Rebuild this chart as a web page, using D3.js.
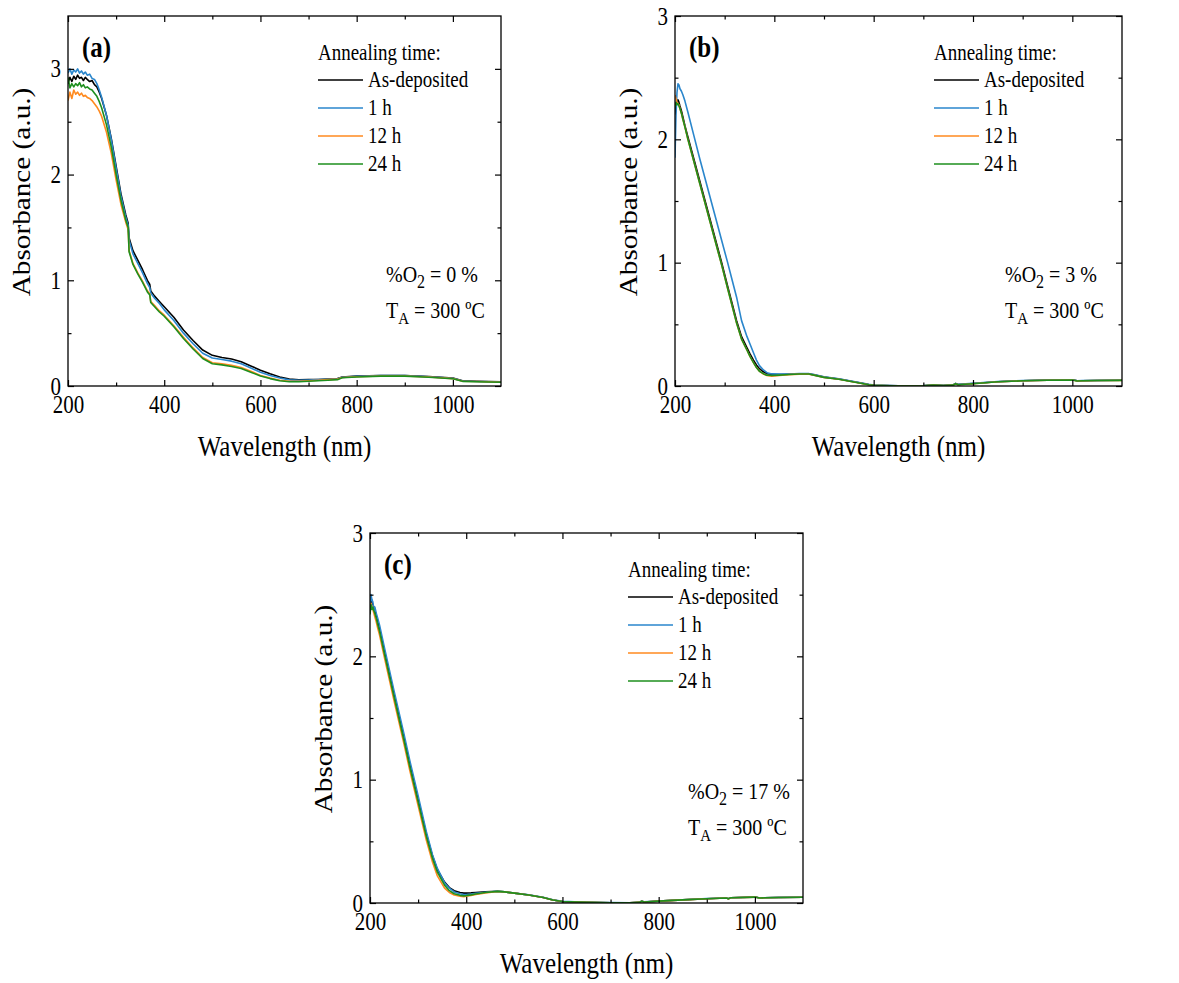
<!DOCTYPE html>
<html><head><meta charset="utf-8">
<script src="https://cdn.jsdelivr.net/npm/d3@7"></script>
<style>
body{margin:0;background:#fff}
svg{display:block}
text{font-family:"Liberation Serif","Times New Roman",serif;fill:#000}
</style>
</head><body>
<svg id="chart" width="1179" height="983"></svg>
<script>
// ---------------- DATA ----------------
const seriesNames = ["As-deposited", "1 h", "12 h", "24 h"];
const seriesColors = ["#000000", "#2a86cc", "#ff8a1f", "#1e8f1e"];
const xTickValues = [200, 400, 600, 800, 1000];
const xMinorTickValues = [300, 500, 700, 900];
const panelLabels = ["(a)", "(b)", "(c)"];
const oxygenLabels = ["0", "3", "17"];
const annealTempLabel = "300 ºC";

// Panel (a) : %O2 = 0 %
const waveA = [200,204,208,212,216,220,224,228,232,236,240,245,250,255,260,265,270,280,290,300,
  310,320,325,327,335,345,355,365,370,372,380,390,400,420,440,460,480,500,520,540,
  560,580,600,620,640,660,680,700,720,740,760,770,800,850,900,950,1000,1020,1050,1100];
const asDepA = [2.86,2.92,2.88,2.93,2.90,2.94,2.91,2.92,2.89,2.92,2.90,2.88,2.89,2.85,2.83,2.78,2.72,2.56,2.34,2.08,
  1.82,1.62,1.54,1.40,1.28,1.19,1.10,1.00,0.96,0.90,0.85,0.80,0.75,0.65,0.53,0.43,0.34,0.29,0.27,0.255,
  0.23,0.19,0.15,0.115,0.085,0.065,0.058,0.06,0.062,0.065,0.07,0.085,0.095,0.10,0.10,0.09,0.075,0.05,0.045,0.04];
const h1A = [2.96,3.00,2.95,2.99,2.97,3.00,2.96,2.98,2.95,2.97,2.94,2.95,2.91,2.90,2.86,2.80,2.73,2.56,2.33,2.06,
  1.80,1.60,1.52,1.38,1.25,1.16,1.07,0.97,0.93,0.88,0.83,0.78,0.72,0.62,0.50,0.40,0.31,0.265,0.25,0.235,
  0.21,0.17,0.13,0.10,0.075,0.058,0.053,0.056,0.06,0.063,0.068,0.082,0.092,0.098,0.098,0.088,0.072,0.048,0.043,0.038];
const h12A = [2.70,2.78,2.72,2.80,2.76,2.78,2.75,2.77,2.74,2.75,2.73,2.72,2.70,2.67,2.64,2.60,2.55,2.40,2.20,1.95,
  1.72,1.55,1.48,1.28,1.16,1.07,0.99,0.90,0.87,0.80,0.76,0.71,0.67,0.57,0.46,0.36,0.27,0.22,0.21,0.195,
  0.175,0.14,0.10,0.075,0.055,0.045,0.045,0.05,0.055,0.06,0.065,0.08,0.088,0.095,0.095,0.085,0.07,0.045,0.042,0.036];
const h24A = [2.92,2.82,2.86,2.83,2.86,2.84,2.87,2.83,2.85,2.82,2.83,2.81,2.80,2.77,2.74,2.69,2.63,2.47,2.26,2.00,
  1.76,1.57,1.50,1.27,1.15,1.06,0.98,0.89,0.86,0.79,0.75,0.70,0.66,0.56,0.45,0.35,0.26,0.21,0.20,0.185,
  0.165,0.13,0.095,0.07,0.05,0.04,0.04,0.045,0.05,0.055,0.06,0.078,0.085,0.093,0.093,0.083,0.068,0.044,0.04,0.035];

// Panel (b) : %O2 = 3 %
const waveB = [200,202,204,206,208,210,213,216,220,226,238,250,260,270,280,294,306,315,324,334,
  345,351,358,364,370,378,385,395,410,430,450,470,480,500,530,560,590,600,650,700,
  720,740,760,765,770,800,850,900,950,1000,1010,1020,1050,1100];
const asDepB = [2.20,2.28,2.31,2.32,2.30,2.27,2.23,2.18,2.11,2.02,1.84,1.66,1.51,1.36,1.21,1.00,0.81,0.67,0.53,0.40,
  0.31,0.26,0.21,0.17,0.14,0.115,0.10,0.095,0.093,0.095,0.098,0.098,0.09,0.072,0.057,0.035,0.012,0.006,0.001,0.002,
  0.008,0.004,0.008,0.02,0.012,0.02,0.035,0.043,0.048,0.05,0.042,0.043,0.045,0.047];
const h1B = [1.85,2.20,2.38,2.45,2.44,2.41,2.39,2.36,2.31,2.22,2.03,1.84,1.69,1.54,1.39,1.18,1.00,0.86,0.72,0.53,
  0.40,0.34,0.27,0.21,0.165,0.13,0.108,0.098,0.096,0.097,0.10,0.10,0.092,0.074,0.058,0.036,0.013,0.007,0.002,0.003,
  0.009,0.005,0.009,0.021,0.013,0.021,0.036,0.044,0.049,0.051,0.043,0.044,0.046,0.048];
const h12B = [2.36,2.33,2.30,2.29,2.28,2.25,2.21,2.16,2.10,2.00,1.82,1.64,1.49,1.34,1.19,0.98,0.79,0.65,0.51,0.38,
  0.29,0.24,0.19,0.15,0.12,0.097,0.085,0.08,0.085,0.092,0.096,0.096,0.088,0.07,0.055,0.033,0.01,0.005,0.0,0.001,
  0.007,0.003,0.007,0.018,0.01,0.018,0.034,0.042,0.047,0.049,0.041,0.042,0.044,0.046];
const h24B = [2.26,2.30,2.28,2.29,2.27,2.25,2.21,2.16,2.10,2.00,1.82,1.64,1.49,1.34,1.19,0.98,0.79,0.65,0.51,0.38,
  0.29,0.24,0.19,0.15,0.12,0.10,0.088,0.085,0.088,0.093,0.097,0.097,0.088,0.07,0.055,0.033,0.01,0.005,0.0,0.001,
  0.007,0.003,0.007,0.018,0.01,0.018,0.034,0.042,0.047,0.049,0.041,0.042,0.044,0.046];

// Panel (c) : %O2 = 17 %
const waveC = [200,202,204,206,208,210,213,216,220,230,250,270,283,300,317,330,340,355,365,375,
  387,395,400,410,420,440,465,480,500,530,560,580,600,650,700,740,760,765,770,800,
  850,900,940,945,950,1000,1010,1020,1050,1100];
const asDepC = [2.40,2.46,2.44,2.42,2.40,2.37,2.33,2.28,2.22,2.04,1.69,1.35,1.12,0.84,0.56,0.38,0.27,0.17,0.125,0.10,
  0.085,0.08,0.08,0.082,0.085,0.09,0.095,0.09,0.08,0.065,0.045,0.025,0.012,0.005,0.002,0.001,0.005,0.015,0.008,0.015,
  0.025,0.035,0.04,0.035,0.042,0.048,0.04,0.042,0.045,0.047];
const h1C = [2.35,2.50,2.46,2.44,2.36,2.40,2.35,2.31,2.25,2.07,1.72,1.38,1.15,0.87,0.58,0.39,0.28,0.165,0.12,0.09,
  0.075,0.068,0.068,0.072,0.078,0.087,0.095,0.09,0.08,0.066,0.046,0.026,0.013,0.006,0.003,0.002,0.006,0.016,0.009,0.016,
  0.026,0.036,0.041,0.036,0.043,0.049,0.041,0.043,0.046,0.048];
const h12C = [2.38,2.43,2.40,2.38,2.35,2.32,2.28,2.23,2.17,1.99,1.64,1.30,1.07,0.79,0.51,0.33,0.22,0.12,0.085,0.065,
  0.055,0.052,0.055,0.062,0.07,0.082,0.093,0.09,0.08,0.065,0.045,0.025,0.012,0.005,0.002,0.001,0.005,0.015,0.008,0.015,
  0.025,0.035,0.04,0.035,0.042,0.048,0.04,0.042,0.045,0.047];
const h24C = [2.34,2.42,2.38,2.40,2.37,2.35,2.31,2.26,2.20,2.02,1.67,1.33,1.10,0.82,0.54,0.36,0.25,0.145,0.10,0.075,
  0.062,0.058,0.06,0.066,0.073,0.085,0.094,0.09,0.08,0.065,0.045,0.025,0.012,0.005,0.002,0.001,0.005,0.015,0.008,0.015,
  0.025,0.035,0.04,0.035,0.042,0.048,0.04,0.042,0.045,0.047];

const yMaxA = 3.5, yMaxB = 3, yMaxC = 3;

// ---------------- LAYOUT ----------------
const panels = [
  {label: panelLabels[0], o2: oxygenLabels[0], yMax: yMaxA, wave: waveA, series: [asDepA, h1A, h12A, h24A],
   box: {l: 68, t: 16, r: 501, b: 386}, legendX: 318, noteX: 386},
  {label: panelLabels[1], o2: oxygenLabels[1], yMax: yMaxB, wave: waveB, series: [asDepB, h1B, h12B, h24B],
   box: {l: 675, t: 16, r: 1122, b: 386}, legendX: 934, noteX: 1005},
  {label: panelLabels[2], o2: oxygenLabels[2], yMax: yMaxC, wave: waveC, series: [asDepC, h1C, h12C, h24C],
   box: {l: 370, t: 533, r: 803, b: 903}, legendX: 628, noteX: 688}
];

const svg = d3.select("#chart");
const TICK = 21, LEG = 19, TITLE = 25, NOTE = 20, LABEL = 25;
const SY = 1.17; // glyphs in the reference are vertically elongated

function placeText(parent, x, y, size, str, rotate) {
  const t = parent.append("text")
    .attr("transform", `translate(${x},${y}) scale(1,${SY})` + (rotate ? ` rotate(${rotate})` : ""))
    .style("font-size", size + "px");
  if (str !== undefined) t.text(str);
  return t;
}

panels.forEach((p, pi) => {
  const B = p.box;
  const x = d3.scaleLinear().domain([200, 1100]).range([B.l, B.r]);
  const y = d3.scaleLinear().domain([0, p.yMax]).range([B.b, B.t]);
  const g = svg.append("g");

  const clipId = "clip" + pi;
  svg.append("clipPath").attr("id", clipId).append("rect")
    .attr("x", B.l).attr("y", B.t).attr("width", B.r - B.l).attr("height", B.b - B.t);

  // lines
  const line = d3.line().x(d => x(d[0])).y(d => y(d[1]));
  const lg = g.append("g").attr("clip-path", `url(#${clipId})`);
  p.series.forEach((vals, si) => {
    const pts = p.wave.map((w, i) => [w, vals[i]]);
    lg.append("path").attr("d", line(pts)).attr("fill", "none")
      .attr("stroke", seriesColors[si]).attr("stroke-width", 1.6).attr("stroke-linejoin", "round");
  });

  const yMajor = d3.range(0, Math.floor(p.yMax) + 1);
  const yMinor = d3.range(0.5, p.yMax, 1);

  function styleAxis(sel) {
    sel.select(".domain").remove();
    sel.selectAll(".tick line").attr("stroke", "#000").attr("stroke-width", 1.2);
  }
  // bottom (labelled)
  const bx = g.append("g").attr("transform", `translate(0,${B.b})`)
    .call(d3.axisBottom(x).tickValues(xTickValues).tickSizeInner(-6).tickSizeOuter(0).tickFormat(d3.format("d")))
    .call(styleAxis);
  bx.selectAll(".tick text").attr("y", null).attr("dy", null)
    .attr("transform", `translate(0,27) scale(1,${SY})`).style("font-size", TICK + "px").attr("fill", "#000");
  g.append("g").attr("transform", `translate(0,${B.b})`)
    .call(d3.axisBottom(x).tickValues(xMinorTickValues).tickSizeInner(-3.5).tickSizeOuter(0).tickFormat(""))
    .call(styleAxis);
  // top
  g.append("g").attr("transform", `translate(0,${B.t})`)
    .call(d3.axisTop(x).tickValues(xTickValues).tickSizeInner(-6).tickSizeOuter(0).tickFormat(""))
    .call(styleAxis);
  g.append("g").attr("transform", `translate(0,${B.t})`)
    .call(d3.axisTop(x).tickValues(xMinorTickValues).tickSizeInner(-3.5).tickSizeOuter(0).tickFormat(""))
    .call(styleAxis);
  // left (labelled)
  const ly = g.append("g").attr("transform", `translate(${B.l},0)`)
    .call(d3.axisLeft(y).tickValues(yMajor).tickSizeInner(-6).tickSizeOuter(0).tickFormat(d3.format("d")))
    .call(styleAxis);
  ly.selectAll(".tick text").attr("x", null).attr("dy", null)
    .attr("transform", `translate(-7,8) scale(1,${SY})`).style("font-size", TICK + "px").attr("fill", "#000");
  g.append("g").attr("transform", `translate(${B.l},0)`)
    .call(d3.axisLeft(y).tickValues(yMinor).tickSizeInner(-3.5).tickSizeOuter(0).tickFormat(""))
    .call(styleAxis);
  // right
  g.append("g").attr("transform", `translate(${B.r},0)`)
    .call(d3.axisRight(y).tickValues(yMajor).tickSizeInner(-6).tickSizeOuter(0).tickFormat(""))
    .call(styleAxis);
  g.append("g").attr("transform", `translate(${B.r},0)`)
    .call(d3.axisRight(y).tickValues(yMinor).tickSizeInner(-3.5).tickSizeOuter(0).tickFormat(""))
    .call(styleAxis);

  // frame
  g.append("rect").attr("x", B.l).attr("y", B.t).attr("width", B.r - B.l).attr("height", B.b - B.t)
    .attr("fill", "none").attr("stroke", "#000").attr("stroke-width", 1.3);

  // axis titles
  placeText(g, (B.l + B.r) / 2, B.b + 70, TITLE, "Wavelength (nm)").attr("text-anchor", "middle");
  placeText(g, B.l - 38, B.t + 176, TITLE, "Absorbance (a.u.)", -90).attr("text-anchor", "middle");

  // panel label
  placeText(g, B.l + 14, B.t + 41, LABEL, p.label).style("font-weight", "bold");

  // legend
  placeText(g, p.legendX, B.t + 44, LEG, "Annealing time:");
  seriesNames.forEach((name, si) => {
    const yy = B.t + 64 + si * 28;
    g.append("line").attr("x1", p.legendX).attr("x2", p.legendX + 45).attr("y1", yy).attr("y2", yy)
      .attr("stroke", seriesColors[si]).attr("stroke-width", 1.6);
    placeText(g, p.legendX + 50, yy + 7, LEG, name);
  });

  // annotations
  const n1 = placeText(g, p.noteX, B.t + 266, NOTE);
  n1.append("tspan").text("%O");
  n1.append("tspan").attr("dy", 5).style("font-size", "16px").text("2");
  n1.append("tspan").attr("dy", -5).text(" = " + p.o2 + " %");
  const n2 = placeText(g, p.noteX, B.t + 302, NOTE);
  n2.append("tspan").text("T");
  n2.append("tspan").attr("dy", 5).style("font-size", "15px").text("A");
  n2.append("tspan").attr("dy", -5).text(" = " + annealTempLabel);
});
</script>
</body></html>
